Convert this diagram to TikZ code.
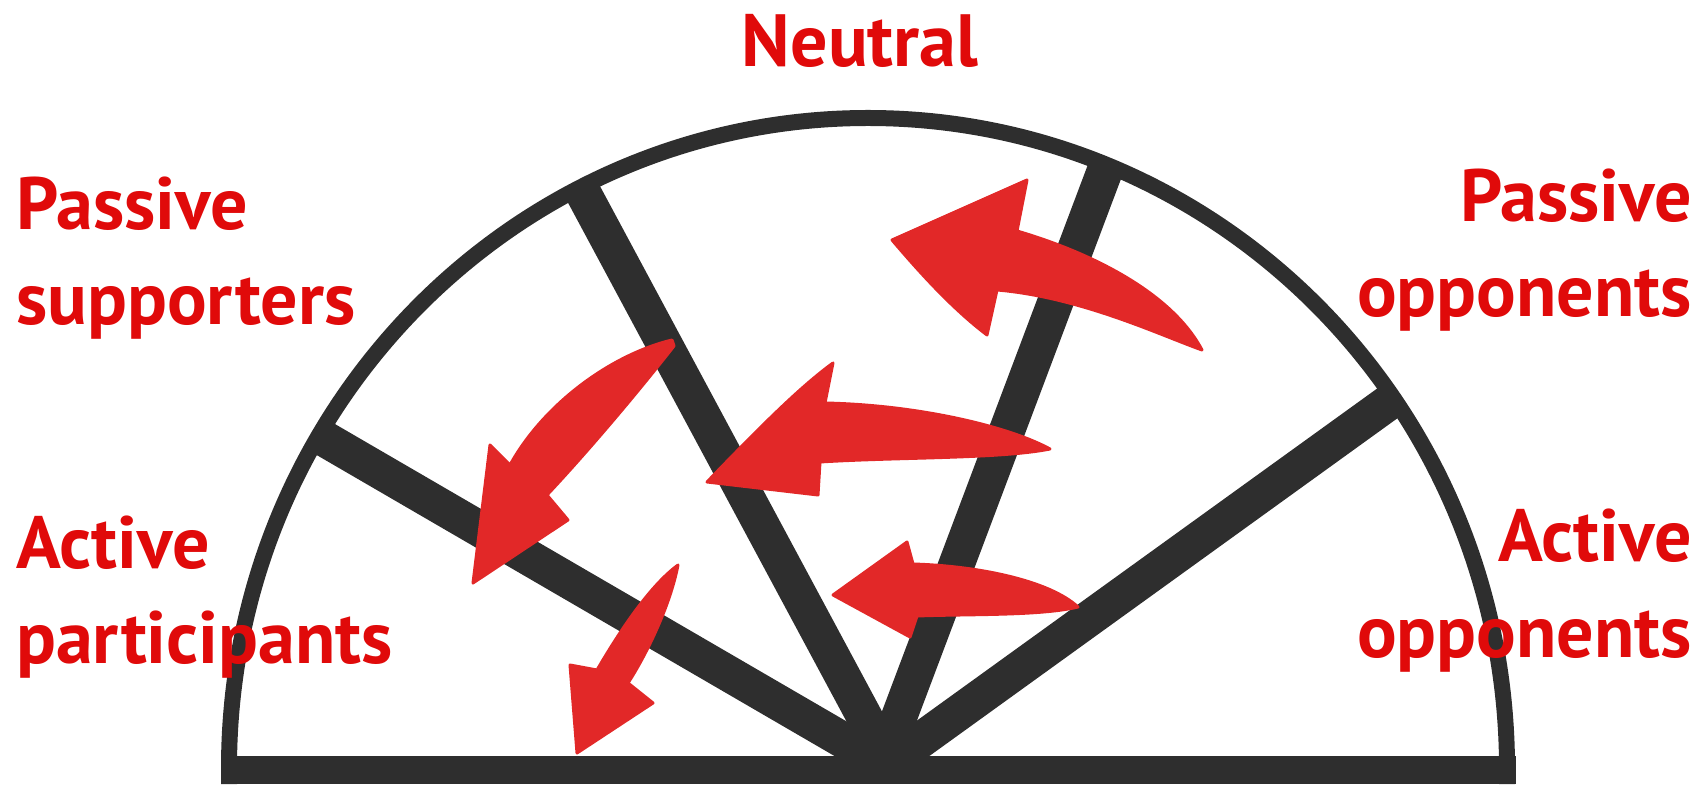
\documentclass[tikz,border=0pt]{standalone}
\usepackage{fontspec}
\setmainfont{PT Sans}
\definecolor{inkred}{HTML}{E00A0A}
\definecolor{arrred}{HTML}{E22828}
\definecolor{ink}{HTML}{2E2E2E}

\begin{document}
\begin{tikzpicture}[
  x=1pt, y=1pt,
  every node/.style = {text=inkred, inner sep=0pt, font=\fontsize{74}{95}\selectfont\bfseries},
  rim/.style = {draw=ink, line width=16},
  spoke/.style = {draw=ink, line width=36},
  sweep/.style = {fill=arrred, draw=arrred, line width=3, line join=round}
]
\useasboundingbox (0,0) rectangle (1704,787);

% ends of the spokes on the rim, and where they meet
\coordinate (e1) at (318,352);
\coordinate (e2) at (580,600);
\coordinate (e3) at (1107,622);
\coordinate (e4) at (1392,387);
\coordinate (h1) at (872,30);
\coordinate (h2) at (886,30);
\coordinate (h3) at (884,30);
\coordinate (h4) at (900,32);

\begin{scope}
  \clip (229,19) arc[start angle=180, end angle=0, x radius=639, y radius=650] -- cycle;
  \draw[spoke] (e1) -- (h1);
  \draw[spoke] (e2) -- (h2);
  \draw[spoke] (e3) -- (h3);
  \draw[spoke] (e4) -- (h4);
\end{scope}

\draw[rim] (229,3) -- (229,19) arc[start angle=180, end angle=0, x radius=639, y radius=650] -- (1507,3);
\fill[ink] (222,3) rectangle (1516,31);   % floor

% red sweeps
\filldraw[sweep] (892,547) -- (1027,607) -- (1017,556) .. controls (1092,534) and (1172,494) .. (1202,437)
  .. controls (1160,452) and (1080,490) .. (997,497) -- (987,452) .. controls (950,480) and (915,520) .. cycle;
\filldraw[sweep] (707,305) .. controls (760,360) and (800,400) .. (833,424) -- (825,384) .. controls (920,382) and (1010,360) .. (1050,338)
  .. controls (1000,328) and (900,330) .. (820,325) -- (818,292) -- cycle;
\filldraw[sweep] (672,447) .. controls (610,432) and (543,382) .. (510,322) -- (490,342) -- (473,204)
  -- (568,267) -- (547,292) .. controls (592,340) and (642,400) .. (674,441) -- cycle;
\filldraw[sweep] (678,222) .. controls (655,205) and (628,170) .. (597,117) -- (570,122) -- (577,34)
  -- (653,84) -- (628,104) .. controls (645,130) and (670,180) .. (678,222) -- cycle;
\filldraw[sweep] (833,192) -- (907,245) -- (913,223) .. controls (980,221) and (1050,206) .. (1078,180)
  .. controls (1040,171) and (970,173) .. (917,171) -- (910,150) -- cycle;

\node (neutral) [anchor=base] at (860,720) {Neutral};
\node (passsup) [anchor=base west, align=left] at (16,462) {Passive\\supporters};
\node (actpart) [anchor=base west, align=left] at (16,124) {Active\\participants};
\node (passopp) [anchor=base east, align=right] at (1692,470) {Passive\\opponents};
\node (actopp)  [anchor=base east, align=right] at (1692,130) {Active\\opponents};

\end{tikzpicture}
\end{document}
